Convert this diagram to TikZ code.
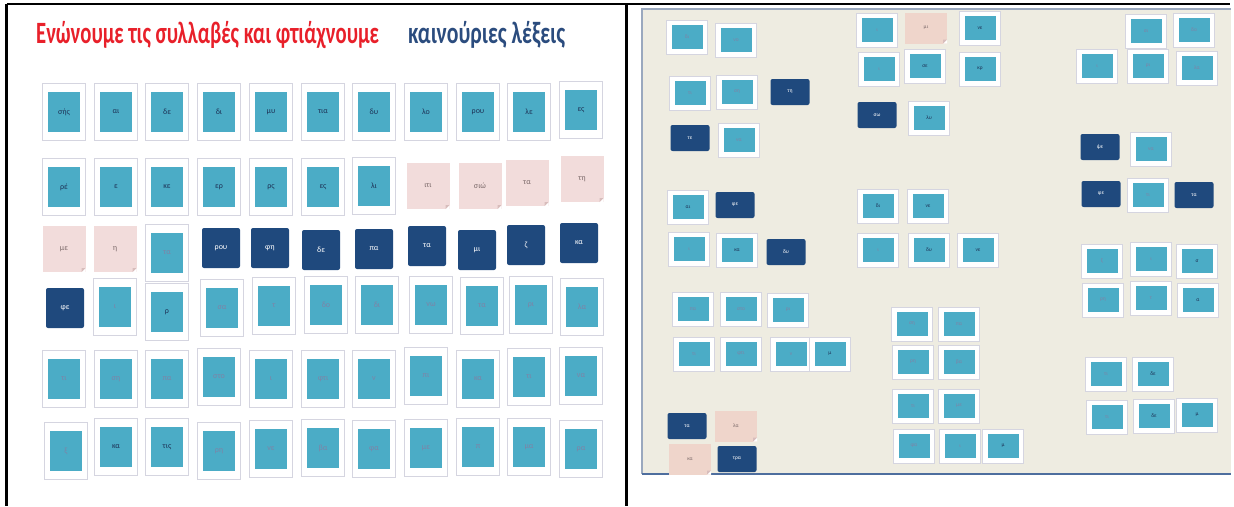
\documentclass[tikz,border=0pt]{standalone}
\usepackage{fontspec}
\setmainfont{Carlito}

\definecolor{cardblue}{HTML}{4BACC6}
\definecolor{navy}{HTML}{1F497D}
\definecolor{notepink}{HTML}{F2DCDB}
\definecolor{chippink}{HTML}{EFD5CB}
\definecolor{notefold}{HTML}{D8BDBC}
\definecolor{framegray}{HTML}{D5D5E0}
\definecolor{panelbeige}{HTML}{EEECE1}
\definecolor{panelline}{HTML}{9AA8BE}
\definecolor{panelfoot}{HTML}{4E6E9E}
\definecolor{titlered}{HTML}{E8202A}
\definecolor{titleblue}{HTML}{2B4C7E}
\definecolor{cardtext}{HTML}{1E3357}
\definecolor{fainttext}{HTML}{7E83A6}
\definecolor{notetext}{HTML}{7D6B6B}

\begin{document}
\begin{tikzpicture}[x=1pt, y=-1pt,
    framed/.style n args={4}{fill=white, draw=framegray, line width=.6pt, inner sep=0pt,
      minimum width=#1, minimum height=#2, text=cardtext,
      path picture={\fill[cardblue] ([shift={(#3,-#4)}]path picture bounding box.north west)
        rectangle ([shift={(-#3,#4)}]path picture bounding box.south east);}},
    card/.style={framed={43pt}{57pt}{5.5pt}{8.5pt}, font=\fontsize{8}{9}\selectfont},
    chip/.style={framed={41pt}{34pt}{5pt}{5pt}, font=\fontsize{5.5}{6}\selectfont},
    faint/.style={text=fainttext},
    word/.style={fill=navy, rounded corners=2pt, inner sep=0pt, text=white,
      minimum width=38pt, minimum height=40pt, font=\fontsize{8}{9}\selectfont},
    smallword/.style={word, minimum width=39pt, minimum height=26pt, font=\fontsize{5.5}{6}\selectfont},
    note/.style={fill=notepink, inner sep=0pt, text=notetext,
      minimum width=43pt, minimum height=46pt, font=\fontsize{8}{9}\selectfont,
      path picture={
        \fill[white] (path picture bounding box.south east) ++(-4pt,0pt) -- ++(4pt,0pt) -- ++(0pt,4pt) -- cycle;
        \fill[notefold] (path picture bounding box.south east) ++(-4pt,0pt) -- ++(4pt,4pt) -- ++(-4pt,0pt) -- cycle;}},
    smallnote/.style={note, fill=chippink, minimum width=42pt, minimum height=31pt, font=\fontsize{5.5}{6}\selectfont}]
  \useasboundingbox (0,0) rectangle (1234,506);

  % Title
  \node[anchor=base west, inner sep=0pt, text=titlered] (title) at (36,43)
    {\resizebox{343pt}{\height}{\fontsize{31}{34}\selectfont\bfseries Ενώνουμε τις συλλαβές και φτιάχνουμε}};
  \node[anchor=base west, inner sep=0pt, text=titleblue] (titleend) at (408,43)
    {\resizebox{157pt}{\height}{\fontsize{31}{34}\selectfont\bfseries καινούριες λέξεις}};

  % Left board (row 1 is top)
  % Row 1
  \node[card] (s1-1) at (64,112) {σής}; \node[card] (s1-2) at (116,112) {αι}; \node[card] (s1-3) at (167,112) {δε};
  \node[card] (s1-4) at (219,112) {δι}; \node[card] (s1-5) at (271,112) {μυ}; \node[card] (s1-6) at (323,112) {τια};
  \node[card] (s1-7) at (374,112) {δυ}; \node[card] (s1-8) at (426,112) {λο}; \node[card] (s1-9) at (478,112) {ρου};
  \node[card] (s1-10) at (529,112) {λε}; \node[card] (s1-11) at (581,110) {ες};
  % Row 2
  \node[card] (s2-1) at (64,187) {ρέ}; \node[card] (s2-2) at (116,187) {ε}; \node[card] (s2-3) at (167,187) {κε};
  \node[card] (s2-4) at (219,187) {ερ}; \node[card] (s2-5) at (271,187) {ρς}; \node[card] (s2-6) at (323,187) {ες};
  \node[card] (s2-7) at (374,186) {λι};
  \node[note] (s2-8) at (428,186) {ιτι}; \node[note] (s2-9) at (480,186) {σιώ};
  \node[note] (s2-10) at (527,183) {τα}; \node[note] (s2-11) at (582,179) {τη};
  % Row 3
  \node[note] (s3-1) at (64,249) {με}; \node[note] (s3-2) at (115,249) {η};
  \node[card, faint] (s3-3) at (167,253) {τα};
  \node[word] (s3-4) at (221,248) {ρου}; \node[word] (s3-5) at (270,248) {φη}; \node[word] (s3-6) at (321,250) {δε};
  \node[word] (s3-7) at (374,249) {πα}; \node[word] (s3-8) at (427,246) {τα}; \node[word] (s3-9) at (477,250) {μι};
  \node[word] (s3-10) at (526,245) {ζ}; \node[word] (s3-11) at (579,243) {κα};
  % Row 4
  \node[word] (s4-1) at (65,308) {φε};
  \node[card, faint] (s4-2) at (115,307) {ι}; \node[card] (s4-3) at (167,312) {ρ}; \node[card, faint] (s4-4) at (222,308) {σα};
  \node[card, faint] (s4-5) at (274,306) {τ}; \node[card, faint] (s4-6) at (326,305) {δο}; \node[card, faint] (s4-7) at (377,305) {δι};
  \node[card, faint] (s4-8) at (431,305) {νω}; \node[card, faint] (s4-9) at (482,306) {τα}; \node[card, faint] (s4-10) at (531,305) {ρι};
  \node[card, faint] (s4-11) at (582,307) {λα};
  % Row 5
  \node[card, faint] (s5-1) at (64,379) {τι}; \node[card, faint] (s5-2) at (116,379) {ση}; \node[card, faint] (s5-3) at (167,379) {πα};
  \node[card, faint] (s5-4) at (219,377) {στο}; \node[card, faint] (s5-5) at (271,379) {ι}; \node[card, faint] (s5-6) at (323,379) {φτι};
  \node[card, faint] (s5-7) at (374,379) {ν}; \node[card, faint] (s5-8) at (426,376) {πι}; \node[card, faint] (s5-9) at (478,379) {κα};
  \node[card, faint] (s5-10) at (529,377) {τι}; \node[card, faint] (s5-11) at (581,376) {να};
  % Row 6
  \node[card, faint] (s6-1) at (66,451) {ξ}; \node[card] (s6-2) at (116,447) {κα}; \node[card] (s6-3) at (167,447) {τις};
  \node[card, faint] (s6-4) at (219,451) {ρη}; \node[card, faint] (s6-5) at (271,449) {νε}; \node[card, faint] (s6-6) at (323,448) {βα};
  \node[card, faint] (s6-7) at (374,449) {φα}; \node[card, faint] (s6-8) at (426,448) {με}; \node[card, faint] (s6-9) at (478,447) {π};
  \node[card, faint] (s6-10) at (529,447) {μα}; \node[card, faint] (s6-11) at (581,449) {ρα};

  % Right board
  \fill[panelbeige] (642,9) rectangle (1231,474);
  \draw[panelline, line width=1.5pt] (1231,9) -- (642,9) -- (642,474);
  \draw[panelfoot, line width=2pt] (642,474) -- (1231,474);

  % Left group
  \node[chip, faint] (a1) at (687,37) {δι}; \node[chip, faint] (a2) at (736,40) {νο};
  \node[chip, faint] (a3) at (690,93) {τι}; \node[chip, faint] (a4) at (737,92) {ση}; \node[smallword] (a5) at (790,92) {τη};
  \node[smallword] (a6) at (690,138) {τε}; \node[chip, faint] (a7) at (739,140) {να};
  \node[chip] (a8) at (688,207) {αι}; \node[smallword] (a9) at (735,205) {φε};
  \node[chip, faint] (a10) at (689,249) {ι}; \node[chip] (a11) at (737,250) {κα}; \node[smallword] (a12) at (786,252) {δυ};
  \node[chip, faint] (a13) at (693,309) {πα}; \node[chip, faint] (a14) at (741,309) {στο}; \node[chip, faint] (a15) at (788,310) {ρι};
  \node[chip, faint] (a16) at (694,354) {τι}; \node[chip, faint] (a17) at (741,354) {φτι}; \node[chip, faint] (a18) at (791,354) {ν};
  \node[chip] (a19) at (830,354) {μ};
  \node[smallword] (a20) at (687,426) {τα}; \node[smallnote] (a21) at (736,426) {λα};
  \node[smallnote] (a22) at (690,459) {κα}; \node[smallword] (a23) at (737,459) {τρα};

  % Middle group
  \node[chip, faint] (b1) at (877,30) {ι}; \node[smallnote] (b2) at (926,28) {μι}; \node[chip] (b3) at (980,28) {νε};
  \node[chip, faint] (b4) at (879,69) {ι}; \node[chip] (b5) at (925,66) {σε}; \node[chip] (b6) at (980,69) {κρ};
  \node[smallword] (b7) at (877,115) {σω}; \node[chip] (b8) at (929,118) {λυ};
  \node[chip] (b9) at (878,206) {δι}; \node[chip] (b10) at (928,206) {νε};
  \node[chip, faint] (b11) at (878,250) {ι}; \node[chip] (b12) at (929,250) {δυ}; \node[chip] (b13) at (978,250) {νε};
  \node[chip, faint] (b14) at (912,324) {ση}; \node[chip, faint] (b15) at (959,324) {πα};
  \node[chip, faint] (b16) at (913,362) {ρη}; \node[chip, faint] (b17) at (959,362) {βα};
  \node[chip, faint] (b18) at (913,406) {τι}; \node[chip, faint] (b19) at (959,406) {με};
  \node[chip, faint] (b20) at (914,446) {φα}; \node[chip, faint] (b21) at (960,446) {ι}; \node[chip] (b22) at (1003,446) {μ};

  % Right group
  \node[chip, faint] (c1) at (1146,31) {σι}; \node[chip, faint] (c2) at (1194,30) {δο};
  \node[chip, faint] (c3) at (1097,66) {ι}; \node[chip, faint] (c4) at (1148,66) {ρι}; \node[chip, faint] (c5) at (1197,68) {λα};
  \node[smallword] (c6) at (1100,147) {ψε}; \node[chip, faint] (c7) at (1151,149) {να};
  \node[smallword] (c8) at (1101,194) {φε}; \node[chip, faint] (c9) at (1148,195) {τι}; \node[smallword] (c10) at (1194,195) {τα};
  \node[chip, faint] (c11) at (1102,261) {ξ}; \node[chip, faint] (c12) at (1151,259) {ι}; \node[chip] (c13) at (1197,261) {σ};
  \node[chip, faint] (c14) at (1103,300) {ρη}; \node[chip, faint] (c15) at (1151,298) {τ}; \node[chip] (c16) at (1198,300) {α};
  \node[chip, faint] (c17) at (1106,374) {τι}; \node[chip] (c18) at (1153,374) {δε};
  \node[chip, faint] (c19) at (1107,417) {τι}; \node[chip] (c20) at (1154,416) {δε}; \node[chip] (c21) at (1197,415) {μ};

  % Cell borders
  \draw[line width=2.5pt] (6.5,4) -- (1230,4);
  \draw[line width=2.5pt] (6.5,4) -- (6.5,506);
  \draw[line width=2.5pt] (626.5,4) -- (626.5,506);
\end{tikzpicture}
\end{document}
